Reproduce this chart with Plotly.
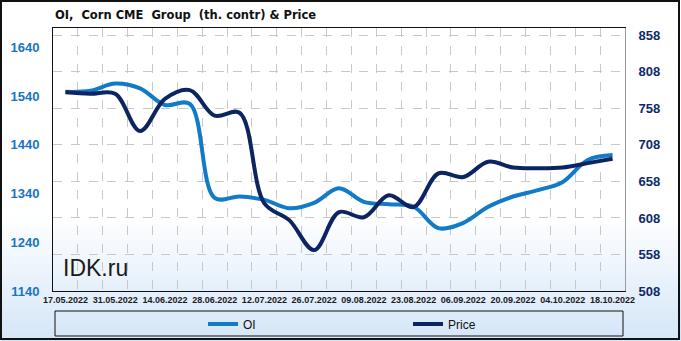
import plotly.graph_objects as go

# ---- data ----
dates = ["2022-05-17", "2022-05-24", "2022-05-31", "2022-06-07", "2022-06-14", "2022-06-21",
         "2022-06-28", "2022-07-05", "2022-07-12", "2022-07-19", "2022-07-26", "2022-08-02",
         "2022-08-09", "2022-08-16", "2022-08-23", "2022-08-30", "2022-09-06", "2022-09-13",
         "2022-09-20", "2022-09-27", "2022-10-04", "2022-10-11", "2022-10-18"]
oi = [1549, 1551, 1566, 1556, 1522, 1524, 1331, 1334, 1327, 1310, 1321, 1351,
      1323, 1318, 1313, 1269, 1280, 1313, 1334, 1347, 1364, 1409, 1419]
price = [780, 778, 778, 727, 771, 783, 748, 752, 628, 605, 564, 616,
         609, 639, 623, 669, 664, 685, 677, 676, 677, 683, 689]
left_ticks = [1140, 1240, 1340, 1440, 1540, 1640]
right_ticks = [508, 558, 608, 658, 708, 758, 808, 858]

W, H = 681, 341
L, R, T, B = 53, 625, 28, 291
pw, ph = R - L, B - T


def px(x):
    return (x - L) / pw


def py(y):
    return (B - y) / ph


OI_COL = "#127bc8"
PR_COL = "#0c2462"

fig = go.Figure()
fig.add_trace(go.Scatter(x=dates, y=oi, name="OI", mode="lines",
                         line=dict(color=OI_COL, width=4, shape="spline", smoothing=1),
                         yaxis="y"))
fig.add_trace(go.Scatter(x=dates, y=price, name="Price", mode="lines",
                         line=dict(color=PR_COL, width=4, shape="spline", smoothing=1),
                         yaxis="y2"))

shapes = []
# gradient background
top_g, bot_g = 215, 341
c0 = (255, 255, 255)
c1 = (212, 230, 248)
n = 42
for k in range(n):
    y0 = top_g + (bot_g - top_g) * k / n
    y1 = top_g + (bot_g - top_g) * (k + 1) / n + 0.6
    t = (k + 0.5) / n
    c = tuple(round(c0[j] + (c1[j] - c0[j]) * t) for j in range(3))
    shapes.append(dict(type="rect", xref="paper", yref="paper", layer="below",
                       x0=px(0), x1=px(W), y0=py(y1), y1=py(y0),
                       fillcolor="rgb(%d,%d,%d)" % c, line=dict(width=0)))
# legend box
shapes.append(dict(type="rect", xref="paper", yref="paper",
                   x0=px(55), x1=px(623), y0=py(336), y1=py(311),
                   line=dict(color="#111", width=1), fillcolor="rgba(0,0,0,0)"))
# outer border
shapes.append(dict(type="rect", xref="paper", yref="paper",
                   x0=px(1), x1=px(679), y0=py(339), y1=py(1),
                   line=dict(color="#111", width=2), fillcolor="rgba(0,0,0,0)"))

fig.update_layout(
    width=W, height=H,
    margin=dict(l=L, r=W - R, t=T, b=H - B, autoexpand=False),
    paper_bgcolor="white",
    plot_bgcolor="rgba(0,0,0,0)",
    showlegend=True,
    shapes=shapes,
    title=dict(text="OI,\u00a0 Corn CME\u00a0 Group\u00a0 (th. contr) &amp; Price",
               x=px(55), xref="paper", xanchor="left", y=1 - 15 / H, yanchor="middle",
               font=dict(family="DejaVu Sans", size=11.5, color="#111", weight="bold")),
    xaxis=dict(type="date",
               range=["2022-05-13 12:00", "2022-10-21 12:00"],
               tickmode="linear", tick0="2022-05-17", dtick=14 * 86400000,
               tickformat="%d.%m.%Y",
               tickfont=dict(family="Liberation Sans", size=9, color="#1a1a1a", weight="bold"),
               showgrid=False, ticks="", ticklen=0, automargin=False,
               showline=True, linecolor="#111", linewidth=1, mirror=True,
               minor=dict(tick0="2022-05-20 12:00", dtick=7 * 86400000, showgrid=True,
                          gridcolor="#c8c8c8", griddash="dash", gridwidth=1, ticks=""),
               zeroline=False),
    yaxis=dict(range=[1140, 1680], tickvals=left_ticks, automargin=False,
               tickfont=dict(family="Liberation Sans", size=13, color="#1a74c2", weight="bold"),
               showgrid=False, zeroline=False, showline=True, linecolor="#111", linewidth=1,
               ticks="", ticklabelstandoff=10),
    yaxis2=dict(range=[508, 868], tickvals=right_ticks, overlaying="y", side="right",
                automargin=False,
                tickfont=dict(family="Liberation Sans", size=13, color="#0d2a6b", weight="bold"),
                showgrid=True, gridcolor="#c8c8c8", griddash="dash", gridwidth=1,
                zeroline=False, showline=True, linecolor="#999", linewidth=1,
                ticks="", ticklabelstandoff=10),
    legend=dict(orientation="h", x=px(203), xanchor="left", y=py(324), yanchor="middle",
                bgcolor="rgba(0,0,0,0)", borderwidth=0,
                entrywidth=160, entrywidthmode="pixels",
                font=dict(family="Liberation Sans", size=12, color="#111")),
    annotations=[dict(text="IDK.ru", xref="paper", yref="paper", x=px(61), y=py(268),
                      xanchor="left", yanchor="middle", showarrow=False,
                      font=dict(family="Liberation Sans", size=23, color="#1a1a1a"))],
)

fig.write_html("out.html")
